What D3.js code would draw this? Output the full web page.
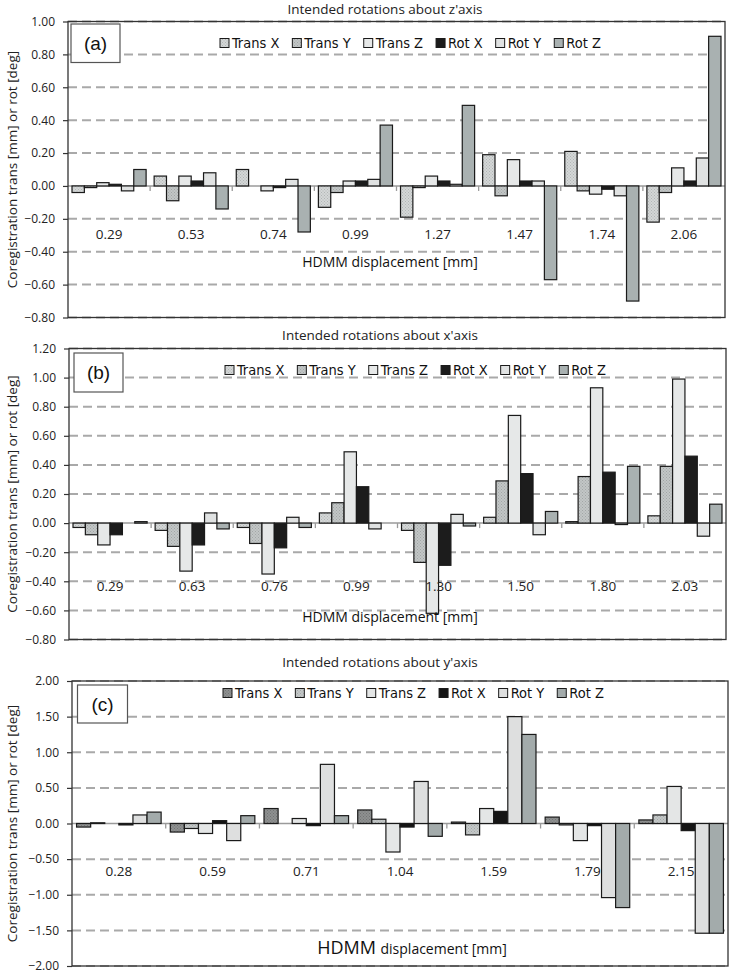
<!DOCTYPE html>
<html><head><meta charset="utf-8">
<script src="https://cdn.jsdelivr.net/npm/d3@7"></script>
<style>body{margin:0;background:#fff}svg{display:block}</style>
</head><body>
<svg id="chart" width="733" height="974"></svg>
<script>
const seriesNames = ["Trans X","Trans Y","Trans Z","Rot X","Rot Y","Rot Z"];

// Panel (a): intended rotations about z'axis
const catsA = ["0.29","0.53","0.74","0.99","1.27","1.47","1.74","2.06"];
const aTransX = [-0.04, 0.06, 0.10, -0.13, -0.19, 0.19, 0.21, -0.22];
const aTransY = [-0.01, -0.09, 0.00, -0.04, -0.01, -0.06, -0.03, -0.04];
const aTransZ = [0.02, 0.06, -0.03, 0.03, 0.06, 0.16, -0.05, 0.11];
const aRotX   = [0.01, 0.03, -0.01, 0.03, 0.03, 0.03, -0.02, 0.03];
const aRotY   = [-0.03, 0.08, 0.04, 0.04, 0.01, 0.03, -0.06, 0.17];
const aRotZ   = [0.10, -0.14, -0.28, 0.37, 0.49, -0.57, -0.70, 0.91];
const ticksA  = [-0.8, -0.6, -0.4, -0.2, 0, 0.2, 0.4, 0.6, 0.8, 1.0];

// Panel (b): intended rotations about x'axis
const catsB = ["0.29","0.63","0.76","0.99","1.30","1.50","1.80","2.03"];
const bTransX = [-0.03, -0.05, -0.03, 0.07, -0.05, 0.04, 0.01, 0.05];
const bTransY = [-0.08, -0.16, -0.14, 0.14, -0.27, 0.29, 0.32, 0.39];
const bTransZ = [-0.15, -0.33, -0.35, 0.49, -0.62, 0.74, 0.93, 0.99];
const bRotX   = [-0.08, -0.15, -0.17, 0.25, -0.29, 0.34, 0.35, 0.46];
const bRotY   = [0.00, 0.07, 0.04, -0.04, 0.06, -0.08, -0.01, -0.09];
const bRotZ   = [0.01, -0.04, -0.03, 0.00, -0.02, 0.08, 0.39, 0.13];
const ticksB  = [-0.8, -0.6, -0.4, -0.2, 0, 0.2, 0.4, 0.6, 0.8, 1.0, 1.2];

// Panel (c): intended rotations about y'axis
const catsC = ["0.28","0.59","0.71","1.04","1.59","1.79","2.15"];
const cTransX = [-0.05, -0.12, 0.21, 0.19, 0.02, 0.09, 0.05];
const cTransY = [0.01, -0.07, 0.00, 0.06, -0.16, -0.02, 0.12];
const cTransZ = [0.00, -0.14, 0.07, -0.40, 0.21, -0.24, 0.52];
const cRotX   = [-0.02, 0.04, -0.03, -0.05, 0.17, -0.03, -0.10];
const cRotY   = [0.12, -0.24, 0.83, 0.59, 1.50, -1.04, -1.54];
const cRotZ   = [0.16, 0.11, 0.11, -0.18, 1.25, -1.18, -1.54];
const ticksC  = [-2.0, -1.5, -1.0, -0.5, 0, 0.5, 1.0, 1.5, 2.0];

const svg = d3.select("#chart");
const defs = svg.append("defs");
function dotPattern(id, base, dot) {
  const p = defs.append("pattern").attr("id", id).attr("width", 3).attr("height", 3)
    .attr("patternUnits", "userSpaceOnUse");
  p.append("rect").attr("width", 3).attr("height", 3).attr("fill", base);
  p.append("rect").attr("x", 0).attr("y", 0).attr("width", 1).attr("height", 1).attr("fill", dot);
  p.append("rect").attr("x", 1.5).attr("y", 1.5).attr("width", 1).attr("height", 1).attr("fill", dot);
  return "url(#" + id + ")";
}
const fillsAB = [dotPattern("pA1", "#d4d7d7", "#b2b6b6"), dotPattern("pA2", "#c2c6c6", "#a2a6a6"),
  "#e6e8e8", "#1c1c1c", "#e0e2e2", "#a9b1b1"];
const fillsC = [dotPattern("pC1", "#8e9090", "#727474"), dotPattern("pC2", "#c4c8c8", "#a4a8a8"),
  "#e4e6e6", "#141414", "#dedfdf", "#a3abab"];

const fmt = d3.format(".2f");

function drawPanel(p) {
  const g = svg.append("g");
  const x0 = d3.scaleBand().domain(p.cats).range([p.left, p.right]).padding(0);
  const x1 = d3.scaleBand().domain(seriesNames).range([0, x0.bandwidth()])
    .paddingInner(0).paddingOuter(0.325);
  const y = d3.scaleLinear().domain([p.ticks[0], p.ticks[p.ticks.length - 1]]).range([p.bottom, p.top]);

  // title
  g.append("text").attr("x", p.titleX).attr("y", p.titleY).attr("text-anchor", "middle")
    .attr("font-family", "Open Sans").attr("font-size", 13.5).attr("fill", "#222").text(p.title);

  // gridlines
  g.selectAll("line.grid").data(p.ticks.filter(t => t !== 0)).join("line")
    .attr("x1", p.left).attr("x2", p.right)
    .attr("y1", d => y(d)).attr("y2", d => y(d))
    .attr("stroke", "#a9a9a9").attr("stroke-width", 2).attr("stroke-dasharray", "9,5");

  // zero axis line with category ticks
  g.append("line").attr("x1", p.left).attr("x2", p.right).attr("y1", y(0)).attr("y2", y(0))
    .attr("stroke", "#9a9a9a").attr("stroke-width", 1.5);
  g.selectAll("line.ctick").data(p.cats.slice(1)).join("line")
    .attr("x1", d => x0(d)).attr("x2", d => x0(d)).attr("y1", y(0)).attr("y2", y(0) + 5)
    .attr("stroke", "#9a9a9a").attr("stroke-width", 1.3);

  // bars
  const rows = [];
  p.cats.forEach((c, i) => seriesNames.forEach((s, k) => {
    const v = p.series[k][i];
    if (v !== 0) rows.push({c, s, k, v});
  }));
  g.selectAll("rect.bar").data(rows).join("rect")
    .attr("x", d => x0(d.c) + x1(d.s))
    .attr("y", d => y(Math.max(0, d.v)))
    .attr("width", x1.bandwidth())
    .attr("height", d => Math.abs(y(d.v) - y(0)))
    .attr("fill", d => p.fills[d.k])
    .attr("stroke", "#1a1a1a").attr("stroke-width", 1.2);

  // category labels
  g.selectAll("text.cat").data(p.cats).join("text")
    .attr("x", d => x0(d) + x0.bandwidth() / 2).attr("y", y(0) + p.catOffset)
    .attr("text-anchor", "middle").attr("dominant-baseline", "middle")
    .attr("font-family", "Open Sans").attr("font-size", 13.5).attr("fill", "#222").text(d => d);

  // x axis title
  const xt = g.append("text").attr("x", p.xTitleX).attr("y", p.xTitleY).attr("text-anchor", "middle")
    .attr("font-family", "Open Sans").attr("fill", "#111");
  xt.append("tspan").attr("font-size", p.hdmmSize).text("HDMM ");
  xt.append("tspan").attr("font-size", 14).text("displacement [mm]");

  // y axis
  const ax = g.append("g").attr("transform", `translate(${p.left},0)`)
    .call(d3.axisLeft(y).tickValues(p.ticks).tickFormat(fmt).tickSize(5).tickPadding(8));
  ax.select(".domain").remove();
  ax.selectAll(".tick line").attr("stroke", "#333").attr("stroke-width", 1.2);
  ax.selectAll(".tick text").attr("font-family", "Open Sans").attr("font-size", 12).attr("fill", "#222");

  // plot border
  g.append("rect").attr("x", p.left).attr("y", p.top).attr("width", p.right - p.left)
    .attr("height", p.bottom - p.top).attr("fill", "none").attr("stroke", "#333").attr("stroke-width", 1.3);

  // y title
  g.append("text").attr("transform", `translate(13,${(p.top + p.bottom) / 2}) rotate(-90)`)
    .attr("text-anchor", "middle").attr("dominant-baseline", "middle")
    .attr("font-family", "Open Sans").attr("font-size", 13.5).attr("fill", "#222")
    .text("Coregistration trans [mm] or rot [deg]");

  // panel label box
  g.append("rect").attr("x", p.box[0]).attr("y", p.box[1]).attr("width", p.box[2]).attr("height", p.box[3])
    .attr("fill", "#fff").attr("stroke", "#555").attr("stroke-width", 1.2);
  g.append("text").attr("x", p.box[0] + p.box[2] / 2).attr("y", p.box[1] + p.box[3] / 2)
    .attr("text-anchor", "middle").attr("dominant-baseline", "central")
    .attr("font-family", "Liberation Sans").attr("font-size", 19).attr("fill", "#111").text(p.label);

  // legend
  let lx = p.legendX;
  seriesNames.forEach((s, k) => {
    g.append("rect").attr("x", lx).attr("y", p.legendY - 4.5).attr("width", 9).attr("height", 9)
      .attr("fill", p.fills[k]).attr("stroke", "#1a1a1a").attr("stroke-width", 1);
    const t = g.append("text").attr("x", lx + 12).attr("y", p.legendY).attr("dominant-baseline", "central")
      .attr("font-family", "DejaVu Sans Condensed").attr("font-size", 14.5).attr("fill", "#111").text(s);
    lx += 12 + t.node().getComputedTextLength() + 13;
  });
}

drawPanel({
  title: "Intended rotations about z'axis", titleX: 385, titleY: 14,
  cats: catsA, series: [aTransX, aTransY, aTransZ, aRotX, aRotY, aRotZ], ticks: ticksA,
  left: 68, right: 725, top: 21.5, bottom: 317.5, fills: fillsAB,
  catOffset: 49, xTitleX: 390, xTitleY: 267, hdmmSize: 14,
  box: [71, 24, 49, 38.5], label: "(a)", legendX: 220, legendY: 43
});
drawPanel({
  title: "Intended rotations about x'axis", titleX: 380, titleY: 340,
  cats: catsB, series: [bTransX, bTransY, bTransZ, bRotX, bRotY, bRotZ], ticks: ticksB,
  left: 69, right: 726, top: 348.5, bottom: 639.5, fills: fillsAB,
  catOffset: 64, xTitleX: 390, xTitleY: 622, hdmmSize: 14,
  box: [74, 353, 49, 39], label: "(b)", legendX: 225, legendY: 370
});
drawPanel({
  title: "Intended rotations about y'axis", titleX: 380, titleY: 667,
  cats: catsC, series: [cTransX, cTransY, cTransZ, cRotX, cRotY, cRotZ], ticks: ticksC,
  left: 72, right: 728, top: 681, bottom: 966, fills: fillsC,
  catOffset: 49, xTitleX: 412, xTitleY: 954, hdmmSize: 18,
  box: [77.5, 685, 50, 38], label: "(c)", legendX: 223, legendY: 693
});
</script>
</body></html>
